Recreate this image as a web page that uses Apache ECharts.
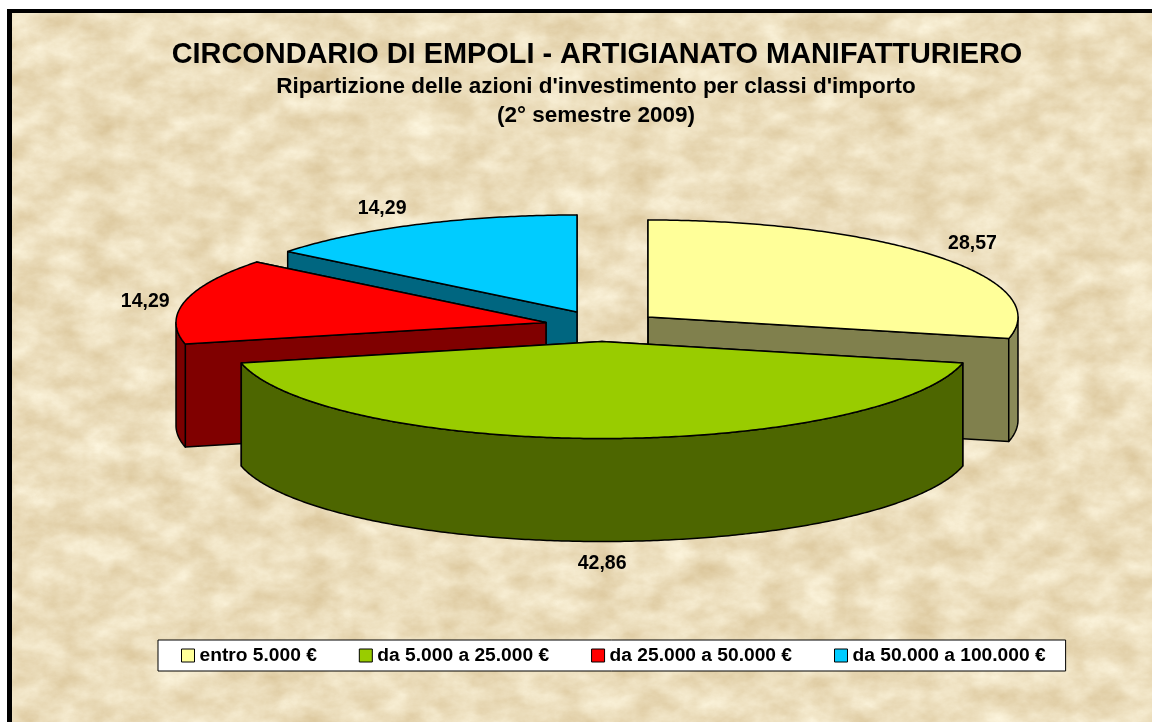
<!DOCTYPE html>
<html>
<head>
<meta charset="utf-8">
<style>
html,body{margin:0;padding:0;background:#fff;width:1152px;height:722px;overflow:hidden}
#paper{position:absolute;left:7px;top:9px;width:1145px;height:713px;box-sizing:border-box;border-left:5px solid #000;border-top:4px solid #000;overflow:hidden}
#paper svg{position:absolute;left:0;top:0}
#chart{position:absolute;left:0;top:0;width:1152px;height:722px}
</style>
<script src="https://cdn.jsdelivr.net/npm/echarts@6/dist/echarts.min.js"></script>
</head>
<body>
<div id="paper">
<svg width="1145" height="713" xmlns="http://www.w3.org/2000/svg">
<filter id="parchment" x="0" y="0" width="100%" height="100%" color-interpolation-filters="sRGB">
<feTurbulence type="fractalNoise" baseFrequency="0.028 0.04" numOctaves="6" seed="11"/>
<feColorMatrix type="matrix" values="0.15 0 0 0 0.85  0.21 0 0 0 0.765  0.30 0 0 0 0.59  0 0 0 0 1"/>
</filter>
<rect width="1145" height="713" filter="url(#parchment)"/>
</svg>
</div>
<div id="chart"></div>
<script>
var categories = ['entro 5.000 €', 'da 5.000 a 25.000 €', 'da 25.000 a 50.000 €', 'da 50.000 a 100.000 €'];
var values = [28.57, 42.86, 14.29, 14.29];
var valueLabels = ['28,57', '42,86', '14,29', '14,29'];
var topColors = ['#FFFF99', '#99CC00', '#FF0000', '#00CCFF'];
var faceColors = ['#80804D', '#4D6600', '#800000', '#006680'];
var rimColors = ['#8A8A58', '#4D6600', '#7A0000', '#006680'];
var apexX = [648, 602, 546, 577];
var apexY = [317, 341.5, 322.5, 312];
var stacking = [1, 4, 3, 2];

var RX = 370, RY = 97, DEPTH = 103, LABEL_RX = 410, LABEL_RY = 117;
var LABEL_NUDGE = [[4, 0], [0, 2], [-1, 5], [-17, 2]];
var total = values.reduce(function (a, b) { return a + b; }, 0);

function toAngle(v) { return echarts.number.linearMap(v, [0, total], [0, 2 * Math.PI], true); }
function rimPoint(i, a) { return [apexX[i] + RX * Math.sin(a), apexY[i] - RY * Math.cos(a)]; }
function drop(p) { return [p[0], p[1] + DEPTH]; }
function arcPoints(i, a0, a1) {
  var n = Math.max(2, Math.ceil((a1 - a0) / 0.01)), pts = [];
  for (var k = 0; k <= n; k++) pts.push(rimPoint(i, a0 + (a1 - a0) * k / n));
  return pts;
}
function poly(points, fill) {
  return { type: 'polygon', shape: { points: points }, style: { fill: fill, stroke: '#000', lineWidth: 1.5, lineJoin: 'round' } };
}

function makeRender(i) {
  return function (params, api) {
    var before = values.slice(0, i).reduce(function (a, b) { return a + b; }, 0);
    var a0 = toAngle(before), a1 = toAngle(before + api.value(0));
    var apex = [apexX[i], apexY[i]];
    var children = [];
    [a1, a0].forEach(function (a) {
      var p = rimPoint(i, a);
      children.push(poly([apex, p, drop(p), drop(apex)], faceColors[i]));
    });
    var r0 = Math.max(a0, Math.PI / 2), r1 = Math.min(a1, 3 * Math.PI / 2);
    if (r1 > r0) {
      var arc = arcPoints(i, r0, r1);
      children.push(poly(arc.concat(arc.slice().reverse().map(drop)), rimColors[i]));
    }
    children.push(poly([apex].concat(arcPoints(i, a0, a1)), topColors[i]));
    var mid = (a0 + a1) / 2;
    var lx = apexX[i] + LABEL_RX * Math.sin(mid) + LABEL_NUDGE[i][0];
    var ly = apexY[i] - LABEL_RY * Math.cos(mid) + LABEL_NUDGE[i][1] + (Math.cos(mid) < -0.3 ? DEPTH : 0);
    children.push({ type: 'text', style: { x: lx, y: ly, text: valueLabels[i], fill: '#000', font: 'bold 19.5px "Liberation Sans", Arial, sans-serif', align: 'center', verticalAlign: 'middle' } });
    return { type: 'group', children: children };
  };
}

var chart = echarts.init(document.getElementById('chart'), null, { renderer: 'canvas' });
chart.setOption({
  animation: false,
  backgroundColor: 'transparent',
  title: [
    { text: 'CIRCONDARIO DI EMPOLI - ARTIGIANATO MANIFATTURIERO', left: 597, top: 41, textAlign: 'center', padding: 0, textStyle: { fontFamily: 'Liberation Sans', fontWeight: 'bold', fontSize: 28.9, color: '#000' } },
    { text: "Ripartizione delle azioni d'investimento per classi d'importo", left: 596, top: 75, textAlign: 'center', padding: 0, textStyle: { fontFamily: 'Liberation Sans', fontWeight: 'bold', fontSize: 22.5, color: '#000' } },
    { text: '(2° semestre 2009)', left: 596, top: 104, textAlign: 'center', padding: 0, textStyle: { fontFamily: 'Liberation Sans', fontWeight: 'bold', fontSize: 22.5, color: '#000' } }
  ],
  legend: {
    data: categories,
    left: 158, top: 640,
    padding: [6, 20, 6, 23],
    itemGap: 42, itemWidth: 13, itemHeight: 13,
    icon: 'rect',
    selectedMode: false,
    backgroundColor: '#fff', borderColor: '#000', borderWidth: 1,
    itemStyle: { borderColor: '#000', borderWidth: 1 },
    textStyle: { fontFamily: 'Liberation Sans', fontWeight: 'bold', fontSize: 19.2, color: '#000' }
  },
  series: categories.map(function (name, i) {
    return {
      type: 'custom', name: name, coordinateSystem: 'none', z: stacking[i], silent: true,
      itemStyle: { color: topColors[i] },
      renderItem: makeRender(i),
      data: [[values[i]]]
    };
  })
});
</script>
</body>
</html>
